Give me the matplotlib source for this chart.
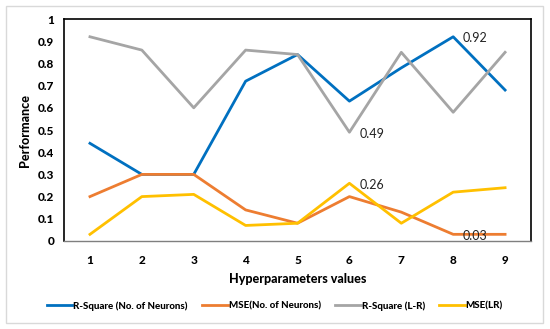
import matplotlib

matplotlib.use("Agg")
import matplotlib.pyplot as plt  # noqa: E402
from matplotlib.patches import Rectangle  # noqa: E402

plt.rcParams["font.family"] = ["Lato", "DejaVu Sans"]

# values
x_vals = [1, 2, 3, 4, 5, 6, 7, 8, 9]
r2_neurons = [0.44, 0.30, 0.30, 0.72, 0.84, 0.63, 0.78, 0.92, 0.68]
mse_neurons = [0.20, 0.30, 0.30, 0.14, 0.08, 0.20, 0.13, 0.03, 0.03]
r2_lr = [0.92, 0.86, 0.60, 0.86, 0.84, 0.49, 0.85, 0.58, 0.85]
mse_lr = [0.03, 0.20, 0.21, 0.07, 0.08, 0.26, 0.08, 0.22, 0.24]
y_ticks = [0, 0.1, 0.2, 0.3, 0.4, 0.5, 0.6, 0.7, 0.8, 0.9, 1]

BLUE = "#0070C0"
ORANGE = "#ED7D31"
GRAY = "#A5A5A5"
YELLOW = "#FFC000"

fig = plt.figure(figsize=(5.5, 3.29), dpi=100)
fig.patches.append(Rectangle((6 / 550, 6 / 329), 537 / 550, 317 / 329,
                             transform=fig.transFigure, fill=False,
                             edgecolor="#d9d9d9", lw=1.0))
ax = fig.add_axes([0.1164, 0.2675, 0.8491, 0.6747])

lw = 2.0
ax.plot(x_vals, r2_neurons, color=BLUE, lw=lw, label="R-Square (No. of Neurons)")
ax.plot(x_vals, mse_neurons, color=ORANGE, lw=lw, label="MSE(No. of Neurons)")
ax.plot(x_vals, r2_lr, color=GRAY, lw=lw, label="R-Square (L-R)")
ax.plot(x_vals, mse_lr, color=YELLOW, lw=lw, label="MSE(LR)")

# data labels, right of the point
labels = [(x_vals[7], r2_neurons[7]), (x_vals[5], r2_lr[5]),
          (x_vals[5], mse_lr[5]), (x_vals[7], mse_neurons[7])]
for lx, ly in labels:
    ax.annotate(f"{ly:.2f}", (lx, ly), xytext=(7, -1),
                textcoords="offset points", va="center", ha="left",
                fontsize=9, color="#222222")

ax.set_xlim(0.5, 9.5)
ax.set_ylim(0, 1)
ax.set_xticks(x_vals)
ax.set_yticks(y_ticks)
ax.set_yticklabels([f"{v:g}" for v in y_ticks])
ax.tick_params(length=0, labelsize=8.5, pad=7)
for lab in ax.get_xticklabels() + ax.get_yticklabels():
    lab.set_fontweight("black")
ax.tick_params(axis="x", pad=10)

for side in ["left", "top", "right"]:
    ax.spines[side].set_color("black")
    ax.spines[side].set_linewidth(1.2)
ax.spines["bottom"].set_color("#7f7f7f")
ax.spines["bottom"].set_linewidth(1.0)

ax.set_ylabel("Performance", fontsize=9, fontweight="black", labelpad=5)
ax.set_xlabel("Hyperparameters values", fontsize=9, fontweight="black", labelpad=5)

fig.legend(loc="center", bbox_to_anchor=(0.5, 0.07), ncol=4, frameon=False,
           prop={"size": 7, "weight": "black"}, handlelength=2.6,
           handletextpad=0.1, columnspacing=1.5)

fig.savefig("out.png", dpi=100)
